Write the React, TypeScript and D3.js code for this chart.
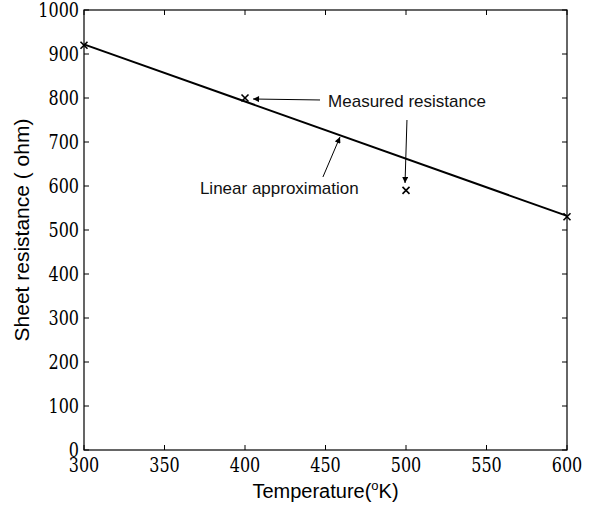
import React from "react";
import * as d3 from "d3";

const measuredTemps = [300, 400, 500, 600];
const measuredValues = [920, 800, 590, 530];
const fitTemps = [300, 600];
const fitValues = [922, 532];
const xTicks = [300, 350, 400, 450, 500, 550, 600];
const yTicks = [0, 100, 200, 300, 400, 500, 600, 700, 800, 900, 1000];

const annotations = [
  { text: "Measured resistance", x: 451.6, y: 779.5 },
  { text: "Linear approximation", x: 372, y: 581.8 },
];
const arrows = [
  { x1: 446.6, y1: 795.5, x2: 405, y2: 797.7 },
  { x1: 500.6, y1: 750, x2: 499.4, y2: 606.8 },
  { x1: 448.4, y1: 620.5, x2: 459, y2: 711.4 },
];

const W = 594, H = 506;
const L = 84, R = 567, T = 10, B = 450;

export default function App() {
  const x = d3.scaleLinear().domain([300, 600]).range([L, R]);
  const y = d3.scaleLinear().domain([0, 1000]).range([B, T]);
  const line = d3.line<number>().x((d, i) => x(fitTemps[i])).y((d) => y(d));
  const tick = 5;
  const serif = "DejaVu Serif";
  const sans = "Liberation Sans";
  const sx = 0.8;
  return (
    <svg width={W} height={H} style={{ position: "absolute", left: 0, top: 0, background: "#fff" }}>
      <defs>
        <marker id="ah" viewBox="0 0 10 10" refX="10" refY="5" markerWidth="8" markerHeight="6" markerUnits="userSpaceOnUse" orient="auto">
          <path d="M0,0 L10,5 L0,10 z" fill="#000" />
        </marker>
      </defs>
      <rect x={0} y={0} width={W} height={H} fill="#fff" />
      <rect x={L} y={T} width={R - L} height={B - T} fill="none" stroke="#000" strokeWidth={1.2} />
      {xTicks.map((t) => (
        <g key={"x" + t}>
          <line x1={x(t)} x2={x(t)} y1={B} y2={B - tick} stroke="#000" />
          <line x1={x(t)} x2={x(t)} y1={T} y2={T + tick} stroke="#000" />
          <text transform={`translate(${x(t)},472) scale(${sx},1)`} textAnchor="middle" fontFamily={serif} fontSize={20} fill="#000">{t}</text>
        </g>
      ))}
      {yTicks.map((t) => (
        <g key={"y" + t}>
          <line x1={L} x2={L + tick} y1={y(t)} y2={y(t)} stroke="#000" />
          <line x1={R} x2={R - tick} y1={y(t)} y2={y(t)} stroke="#000" />
          <text transform={`translate(${L - 5},${y(t)}) scale(${sx},1)`} dy="0.36em" textAnchor="end" fontFamily={serif} fontSize={20} fill="#000">{t}</text>
        </g>
      ))}
      <path d={line(fitValues) || ""} fill="none" stroke="#000" strokeWidth={2} />
      {measuredTemps.map((t, i) => {
        const cx = x(t), cy = y(measuredValues[i]), s = 3.5;
        return (
          <g key={"m" + t} stroke="#000" strokeWidth={1.6}>
            <line x1={cx - s} y1={cy - s} x2={cx + s} y2={cy + s} />
            <line x1={cx - s} y1={cy + s} x2={cx + s} y2={cy - s} />
          </g>
        );
      })}
      {arrows.map((a, i) => (
        <line key={"a" + i} x1={x(a.x1)} y1={y(a.y1)} x2={x(a.x2)} y2={y(a.y2)} stroke="#000" strokeWidth={1} markerEnd="url(#ah)" />
      ))}
      {annotations.map((a) => (
        <text key={a.text} x={x(a.x)} y={y(a.y)} fontFamily={sans} fontSize={17} fill="#111">{a.text}</text>
      ))}
      <text x={(L + R) / 2} y={498} textAnchor="middle" fontFamily={sans} fontSize={20} fill="#000">
        Temperature(<tspan fontSize={13} dy={-8}>o</tspan><tspan dy={8}>K)</tspan>
      </text>
      <text transform={`translate(29, ${(T + B) / 2}) rotate(-90)`} textAnchor="middle" fontFamily={sans} fontSize={21} fill="#000">
        Sheet resistance ( ohm)
      </text>
    </svg>
  );
}
